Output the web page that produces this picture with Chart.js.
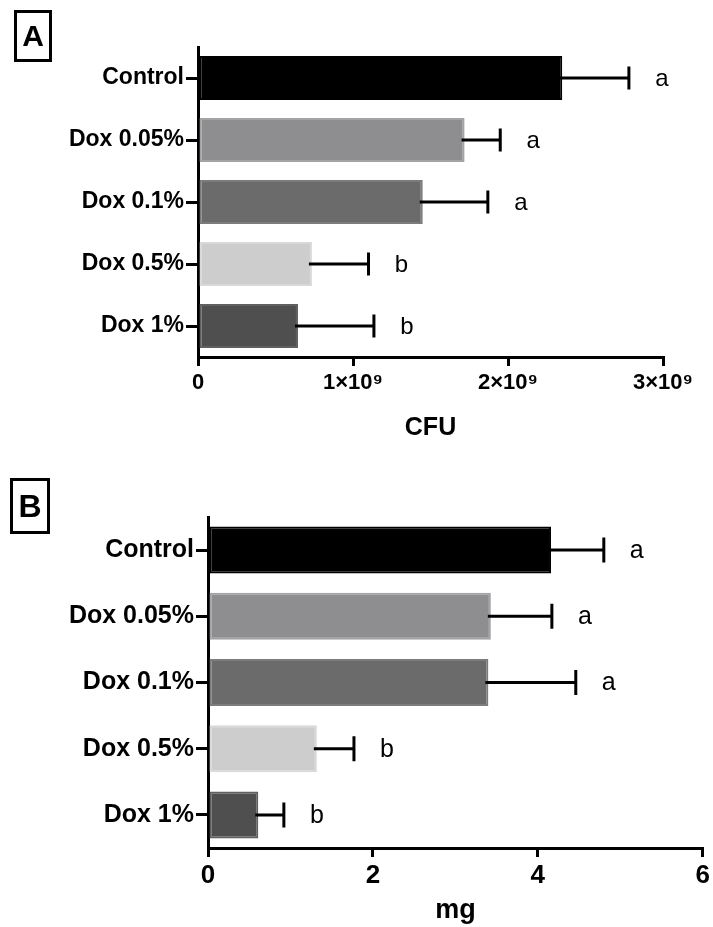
<!DOCTYPE html>
<html>
<head>
<meta charset="utf-8">
<script src="https://cdn.jsdelivr.net/npm/chart.js@4.4.1/dist/chart.umd.min.js"></script>
<style>
  html, body { margin: 0; padding: 0; background: #fff; }
  body { width: 713px; height: 927px; position: relative; overflow: hidden; font-family: 'Liberation Sans', Arial, sans-serif; }
  .panel { position: absolute; left: 0; width: 713px; }
  .panel canvas { display: block; }
  .tag {
    position: absolute; box-sizing: border-box; border: 3px solid #000;
    font-weight: bold; color: #000; text-align: center;
  }
</style>
</head>
<body>
<div class="panel" style="top:0;height:465px"><canvas id="chartA" width="713" height="465"></canvas></div>
<div class="panel" style="top:465px;height:462px"><canvas id="chartB" width="713" height="462"></canvas></div>
<div class="tag" style="left:14px;top:10px;width:38px;height:52px;font-size:30px;line-height:46px">A</div>
<div class="tag" style="left:10px;top:478px;width:40px;height:56px;font-size:32px;line-height:50px">B</div>
<script>
// Groups shown on both panels
const categories = ['Control', 'Dox 0.05%', 'Dox 0.1%', 'Dox 0.5%', 'Dox 1%'];

// Panel A: bacterial counts (CFU), mean and upper error
const cfuMeans = [2.35e9, 1.72e9, 1.45e9, 0.735e9, 0.645e9];
const cfuErrors = [0.43e9, 0.23e9, 0.42e9, 0.365e9, 0.49e9];
const cfuLetters = ['a', 'a', 'a', 'b', 'b'];
const cfuTickLabels = ['0', '1×10⁹', '2×10⁹', '3×10⁹'];

// Panel B: weight (mg), mean and upper error
const mgMeans = [4.16, 3.43, 3.40, 1.32, 0.61];
const mgErrors = [0.64, 0.74, 1.06, 0.45, 0.31];
const mgLetters = ['a', 'a', 'a', 'b', 'b'];
const mgTickLabels = ['0', '2', '4', '6'];

// Bar fills and their slightly lighter outlines
const barColors = ['#000000', '#8e8e91', '#6b6b6b', '#cdcdcd', '#4f4f4f'];
const barBorders = ['#000000', '#a3a3a5', '#7c7c7c', '#d9d9d9', '#606060'];

const FONT = "'Liberation Sans', Arial, sans-serif";

// Draws the upper error bar and the significance letter for every bar
const errorBarPlugin = {
  id: 'errorBars',
  afterDatasetsDraw(chart, args, opts) {
    const ctx = chart.ctx;
    const xs = chart.scales.x;
    const means = chart.data.datasets[0].data;
    const meta = chart.getDatasetMeta(0);
    ctx.save();
    ctx.strokeStyle = '#000';
    ctx.lineWidth = 3;
    ctx.fillStyle = '#000';
    ctx.font = opts.letterSize + 'px ' + FONT;
    ctx.textAlign = 'center';
    ctx.textBaseline = 'middle';
    meta.data.forEach((bar, i) => {
      const y = bar.y;
      const x0 = xs.getPixelForValue(means[i]);
      const x1 = xs.getPixelForValue(means[i] + opts.errors[i]);
      ctx.beginPath();
      ctx.moveTo(x0 - 3, y);
      ctx.lineTo(x1, y);
      ctx.moveTo(x1, y - opts.cap);
      ctx.lineTo(x1, y + opts.cap);
      ctx.stroke();
      ctx.fillText(opts.letters[i], x1 + 33, y + 1);
    });
    ctx.restore();
  }
};

function makeChart(id, cfg) {
  return new Chart(document.getElementById(id), {
    type: 'bar',
    data: {
      labels: categories,
      datasets: [{
        data: cfg.means,
        backgroundColor: barColors,
        borderColor: barBorders,
        borderWidth: 2,
        borderSkipped: false,
        barPercentage: 0.71,
        categoryPercentage: 1
      }]
    },
    options: {
      indexAxis: 'y',
      responsive: false,
      maintainAspectRatio: false,
      animation: false,
      layout: { padding: { top: cfg.top, right: cfg.right, left: 0, bottom: 0 } },
      plugins: {
        legend: { display: false },
        tooltip: { enabled: false },
        errorBars: { errors: cfg.errors, letters: cfg.letters, cap: cfg.cap, letterSize: cfg.letterSize }
      },
      scales: {
        y: {
          grid: { offset: false, drawOnChartArea: false, drawTicks: true, tickLength: 12, lineWidth: 3, color: '#000' },
          border: { display: true, width: 3, color: '#000' },
          ticks: { color: '#000', padding: 2, font: { family: FONT, size: cfg.labelSize, weight: 'bold' } },
          afterFit(scale) { scale.width = cfg.left; }
        },
        x: {
          min: 0,
          max: cfg.max,
          grid: { drawOnChartArea: false, drawTicks: true, tickLength: 9, lineWidth: 3, color: '#000' },
          border: { display: true, width: 3, color: '#000' },
          ticks: {
            stepSize: cfg.step,
            color: '#000',
            padding: cfg.tickPad,
            maxRotation: 0,
            autoSkip: false,
            font: { family: FONT, size: cfg.tickSize, weight: 'bold' },
            callback: (v, i) => cfg.tickLabels[i]
          },
          title: {
            display: true,
            text: cfg.title,
            color: '#000',
            padding: { top: 0, bottom: cfg.titlePad },
            font: { family: FONT, size: cfg.titleSize, weight: 'bold' }
          },
          afterFit(scale) { scale.height = cfg.axisHeight; }
        }
      }
    },
    plugins: [errorBarPlugin]
  });
}

makeChart('chartA', {
  means: cfuMeans, errors: cfuErrors, letters: cfuLetters, tickLabels: cfuTickLabels,
  max: 3e9, step: 1e9, title: 'CFU',
  top: 47, right: 50, left: 198, axisHeight: 108,
  labelSize: 23, tickSize: 22, tickPad: 4, titleSize: 25, titlePad: 22,
  cap: 11.5, letterSize: 24
});

makeChart('chartB', {
  means: mgMeans, errors: mgErrors, letters: mgLetters, tickLabels: mgTickLabels,
  max: 6, step: 2, title: 'mg',
  top: 52, right: 10, left: 208, axisHeight: 79,
  labelSize: 25, tickSize: 26, tickPad: 3, titleSize: 27, titlePad: 0,
  cap: 12.5, letterSize: 25
});
</script>
</body>
</html>
